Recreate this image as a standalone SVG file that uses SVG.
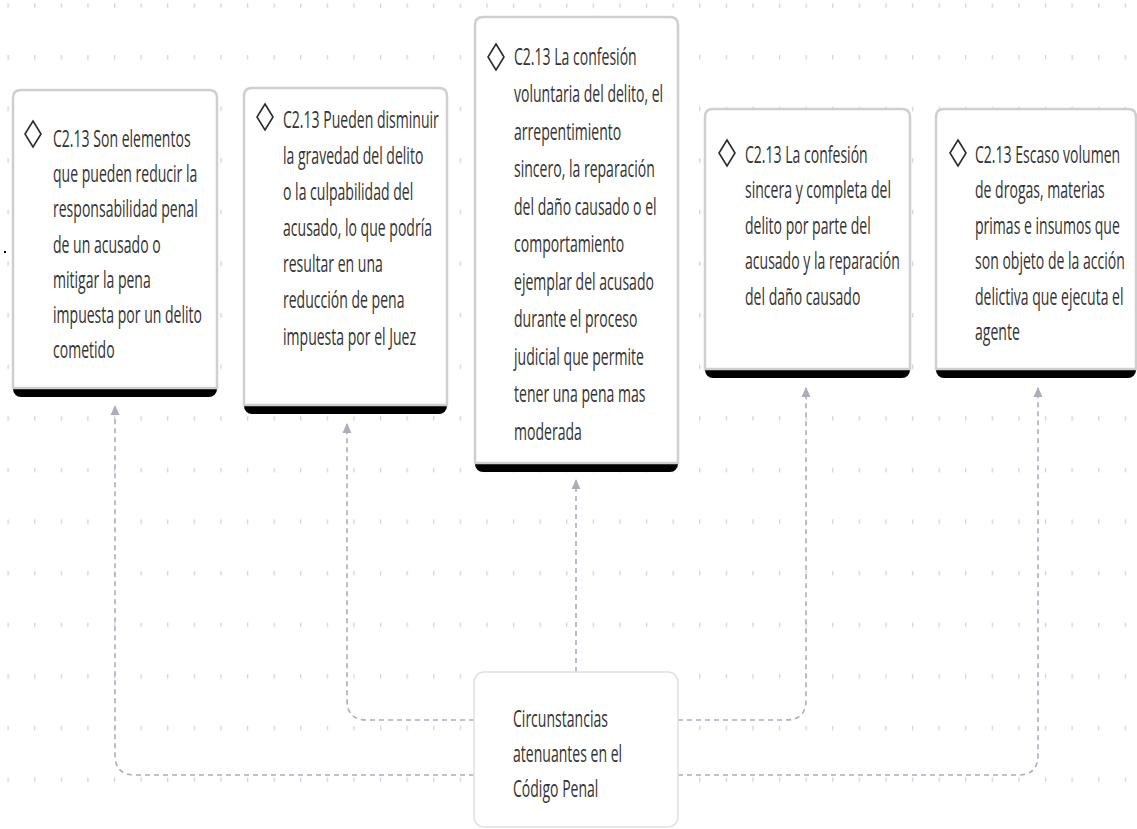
<svg xmlns="http://www.w3.org/2000/svg" width="1137" height="829" viewBox="0 0 1137 829">
<defs>
<pattern id="grid" x="7.5" y="55" width="26.6" height="51.6" patternUnits="userSpaceOnUse">
<rect x="0" y="0" width="1.3" height="4.5" fill="#d2d2d8"/>
</pattern>
<marker id="arr" viewBox="0 0 10 10" refX="9" refY="5" markerWidth="10" markerHeight="10" markerUnits="userSpaceOnUse" orient="auto">
<path d="M0,0.5 L10,5 L0,9.5 Z" fill="#adadbd"/>
</marker>
<style>
.card{fill:#ffffff;stroke:#cfcfcf;stroke-width:2.5}
.bar{fill:#000000}
.dia{fill:none;stroke:#2a2a2a;stroke-width:1.6;stroke-linejoin:miter}
.t{font-family:"Open Sans","Noto Sans",sans-serif;font-size:24px;fill:#333333}
.conn{fill:none;stroke:#adadbd;stroke-width:1.6;stroke-dasharray:5 4}
.root{fill:#ffffff;stroke:#e0e0e0;stroke-width:1.5}
</style>
</defs>
<rect x="0" y="0" width="1137" height="829" fill="#ffffff"/>
<rect x="0" y="0" width="1137" height="829" fill="url(#grid)"/>
<rect x="4" y="251" width="2" height="2" fill="#000"/>

<g id="connectors">
<path class="conn" d="M474,720 H367 Q347,720 347,700 V424" marker-end="url(#arr)"/>
<path class="conn" d="M474,775 H135 Q115,775 115,755 V406" marker-end="url(#arr)"/>
<path class="conn" d="M576,672 V480" marker-end="url(#arr)"/>
<path class="conn" d="M678,720 H786 Q806,720 806,700 V388" marker-end="url(#arr)"/>
<path class="conn" d="M678,775 H1018 Q1038,775 1038,755 V388" marker-end="url(#arr)"/>
</g>

<g id="node1">
<rect class="bar" x="13" y="90" width="204" height="307" rx="8"/>
<path class="card" d="M13,388 V98 Q13,90 21,90 H209 Q217,90 217,98 V388 Z"/>
<polygon class="dia" points="33,121 41,134 33,147 25,134"/>
<text class="t" transform="translate(53 0) scale(0.585 1)">
<tspan x="0" y="147">C2.13 Son elementos</tspan>
<tspan x="0" y="182.2">que pueden reducir la</tspan>
<tspan x="0" y="217.4">responsabilidad penal</tspan>
<tspan x="0" y="252.6">de un acusado o</tspan>
<tspan x="0" y="287.8">mitigar la pena</tspan>
<tspan x="0" y="323">impuesta por un delito</tspan>
<tspan x="0" y="358.2">cometido</tspan>
</text>
</g>

<g id="node2">
<rect class="bar" x="244" y="88" width="203" height="326" rx="8"/>
<path class="card" d="M244,405 V96 Q244,88 252,88 H439 Q447,88 447,96 V405 Z"/>
<polygon class="dia" points="265,104 273,117 265,130 257,117"/>
<text class="t" transform="translate(283 0) scale(0.585 1)">
<tspan x="0" y="128">C2.13 Pueden disminuir</tspan>
<tspan x="0" y="164">la gravedad del delito</tspan>
<tspan x="0" y="200">o la culpabilidad del</tspan>
<tspan x="0" y="236">acusado, lo que podría</tspan>
<tspan x="0" y="272">resultar en una</tspan>
<tspan x="0" y="308">reducción de pena</tspan>
<tspan x="0" y="345">impuesta por el Juez</tspan>
</text>
</g>

<g id="node3">
<rect class="bar" x="475" y="17" width="203" height="455" rx="8"/>
<path class="card" d="M475,463 V25 Q475,17 483,17 H670 Q678,17 678,25 V463 Z"/>
<polygon class="dia" points="496,44 504,57 496,70 488,57"/>
<text class="t" transform="translate(514 0) scale(0.585 1)">
<tspan x="0" y="65">C2.13 La confesión</tspan>
<tspan x="0" y="102.5">voluntaria del delito, el</tspan>
<tspan x="0" y="140">arrepentimiento</tspan>
<tspan x="0" y="177.5">sincero, la reparación</tspan>
<tspan x="0" y="215">del daño causado o el</tspan>
<tspan x="0" y="252.5">comportamiento</tspan>
<tspan x="0" y="290">ejemplar del acusado</tspan>
<tspan x="0" y="327.5">durante el proceso</tspan>
<tspan x="0" y="365">judicial que permite</tspan>
<tspan x="0" y="402.5">tener una pena mas</tspan>
<tspan x="0" y="440">moderada</tspan>
</text>
</g>

<g id="node4">
<rect class="bar" x="705" y="109" width="205" height="269" rx="8"/>
<path class="card" d="M705,369 V117 Q705,109 713,109 H902 Q910,109 910,117 V369 Z"/>
<polygon class="dia" points="727,140 735,153 727,166 719,153"/>
<text class="t" transform="translate(745 0) scale(0.585 1)">
<tspan x="0" y="163">C2.13 La confesión</tspan>
<tspan x="0" y="198.5">sincera y completa del</tspan>
<tspan x="0" y="234">delito por parte del</tspan>
<tspan x="0" y="269.5">acusado y la reparación</tspan>
<tspan x="0" y="305">del daño causado</tspan>
</text>
</g>

<g id="node5">
<rect class="bar" x="936" y="109" width="200" height="269" rx="8"/>
<path class="card" d="M936,369 V117 Q936,109 944,109 H1128 Q1136,109 1136,117 V369 Z"/>
<polygon class="dia" points="958,140 966,153 958,166 950,153"/>
<text class="t" transform="translate(975 0) scale(0.585 1)">
<tspan x="0" y="163">C2.13 Escaso volumen</tspan>
<tspan x="0" y="198.4">de drogas, materias</tspan>
<tspan x="0" y="233.8">primas e insumos que</tspan>
<tspan x="0" y="269.2">son objeto de la acción</tspan>
<tspan x="0" y="304.6">delictiva que ejecuta el</tspan>
<tspan x="0" y="340">agente</tspan>
</text>
</g>

<g id="root">
<rect class="root" x="474" y="672" width="204" height="155" rx="10"/>
<text class="t" transform="translate(513 0) scale(0.585 1)">
<tspan x="0" y="727">Circunstancias</tspan>
<tspan x="0" y="762">atenuantes en el</tspan>
<tspan x="0" y="797">Código Penal</tspan>
</text>
</g>
</svg>
